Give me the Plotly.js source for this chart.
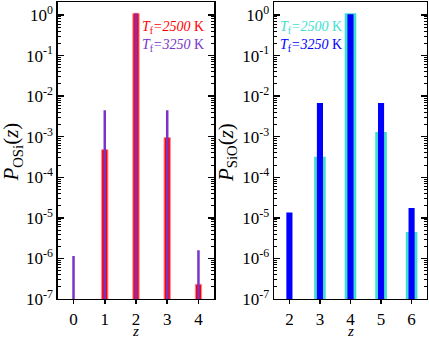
<!DOCTYPE html>
<html>
<head>
<meta charset="utf-8">
<script src="https://cdn.plot.ly/plotly-3.0.1.min.js"></script>
<style>
  body { margin: 0; padding: 0; background: #fff; }
  #chart { width: 429px; height: 339px; }
</style>
</head>
<body>
<div id="chart"></div>
<script>
// OSi clusters (left panel)
var zOSi = [0, 1, 2, 3, 4];
var osi2500 = [null, 4.8e-4, 1.1, 9.5e-4, 2.3e-7];
var osi3250 = [1.15e-6, 4.5e-3, 1.1, 4.5e-3, 1.6e-6];

// SiO clusters (right panel)
var zSiO = [2, 3, 4, 5, 6];
var sio2500 = [null, 3.2e-4, 1.1, 1.3e-3, 4.5e-6];
var sio3250 = [1.35e-5, 6.8e-3, 1.05, 6.8e-3, 1.75e-5];

var decades = [-7, -6, -5, -4, -3, -2, -1, 0];
var yTickText = decades.map(function (d) { return '10<sup>' + d + '</sup>'; });

var serif = 'Liberation Serif';

var minorVals = [];
decades.forEach(function (d) {
    for (var k = 2; k <= 9; k++) minorVals.push(k * Math.pow(10, d));
});

var red = '#ff0000', purple = '#7a33c8', cyan = '#40e0d0', blue = '#0000ff';

var traces = [
    { type: 'bar', x: zOSi, y: osi2500, width: 0.2, xaxis: 'x', yaxis: 'y',
      marker: { color: red, line: { color: '#ff8a8a', width: 1 } }, showlegend: false },
    { type: 'bar', x: zOSi, y: osi3250, width: 0.08, xaxis: 'x', yaxis: 'y',
      marker: { color: purple, line: { width: 0 } }, showlegend: false },
    { type: 'bar', x: zSiO, y: sio2500, width: 0.38, xaxis: 'x2', yaxis: 'y2',
      marker: { color: cyan, line: { width: 0 } }, showlegend: false },
    { type: 'bar', x: zSiO, y: sio3250, width: 0.2, xaxis: 'x2', yaxis: 'y2',
      marker: { color: blue, line: { width: 0 } }, showlegend: false }
];

function yAxis(anchor) {
    return {
        type: 'log', range: [-7, 0.32], domain: [0.118, 0.994], anchor: anchor,
        tickmode: 'array', tickvals: decades.map(function (d) { return Math.pow(10, d); }),
        ticktext: yTickText, ticks: 'inside', ticklen: 6, tickwidth: 1.5, tickcolor: '#000',
        minor: { tickmode: 'array', tickvals: minorVals, ticks: 'inside', ticklen: 3,
                 tickwidth: 1, tickcolor: '#000', showgrid: false },
        showline: true, linecolor: '#000', linewidth: 1.5, mirror: 'allticks',
        showgrid: false, zeroline: false, automargin: false,
        tickfont: { family: serif, size: 17, color: '#000' }
    };
}

function xAxis(domain, anchor, range, vals) {
    return {
        domain: domain, anchor: anchor, range: range,
        tickmode: 'array', tickvals: vals, ticks: 'outside', ticklen: 4, tickwidth: 1.5,
        tickcolor: '#000', showline: true, linecolor: '#000', linewidth: 1.5, mirror: true,
        showgrid: false, zeroline: false, automargin: false,
        tickfont: { family: serif, size: 17, color: '#000' }
    };
}

var annFont = function (c) { return { family: serif, size: 14, color: c }; };
var titleFont = { family: serif, size: 21, color: '#000' };

var layout = {
    width: 429, height: 339,
    margin: { l: 0, r: 0, t: 0, b: 0 },
    paper_bgcolor: '#fff', plot_bgcolor: '#fff',
    barmode: 'overlay',
    xaxis: xAxis([0.135, 0.499], 'y', [-0.5, 4.5], zOSi),
    yaxis: yAxis('x'),
    xaxis2: xAxis([0.639, 0.995], 'y2', [1.5, 6.5], zSiO),
    yaxis2: yAxis('x2'),
    annotations: [
        { text: '<i>T</i><sub>f</sub><i>=2500</i> K', xref: 'paper', yref: 'paper',
          x: 0.48, y: 0.92, xanchor: 'right', yanchor: 'middle', showarrow: false, font: annFont(red) },
        { text: '<i>T</i><sub>f</sub><i>=3250</i> K', xref: 'paper', yref: 'paper',
          x: 0.48, y: 0.867, xanchor: 'right', yanchor: 'middle', showarrow: false, font: annFont(purple) },
        { text: '<i>T</i><sub>f</sub><i>=2500</i> K', xref: 'paper', yref: 'paper',
          x: 0.648, y: 0.92, xanchor: 'left', yanchor: 'middle', showarrow: false, font: annFont(cyan) },
        { text: '<i>T</i><sub>f</sub><i>=3250</i> K', xref: 'paper', yref: 'paper',
          x: 0.648, y: 0.867, xanchor: 'left', yanchor: 'middle', showarrow: false, font: annFont(blue) },
        { text: '<i>P</i><sub>OSi</sub>(<i>z</i>)', xref: 'paper', yref: 'paper',
          x: 0.028, y: 0.55, xanchor: 'center', yanchor: 'middle', textangle: -90,
          showarrow: false, font: titleFont },
        { text: '<i>P</i><sub>SiO</sub>(<i>z</i>)', xref: 'paper', yref: 'paper',
          x: 0.528, y: 0.55, xanchor: 'center', yanchor: 'middle', textangle: -90,
          showarrow: false, font: titleFont },
        { text: '<i>z</i>', xref: 'paper', yref: 'paper', x: 0.317, y: 0.024,
          xanchor: 'center', yanchor: 'middle', showarrow: false,
          font: { family: serif, size: 15, color: '#000' } },
        { text: '<i>z</i>', xref: 'paper', yref: 'paper', x: 0.817, y: 0.024,
          xanchor: 'center', yanchor: 'middle', showarrow: false,
          font: { family: serif, size: 15, color: '#000' } }
    ]
};

Plotly.newPlot('chart', traces, layout, { displayModeBar: false, staticPlot: true });
</script>
</body>
</html>
